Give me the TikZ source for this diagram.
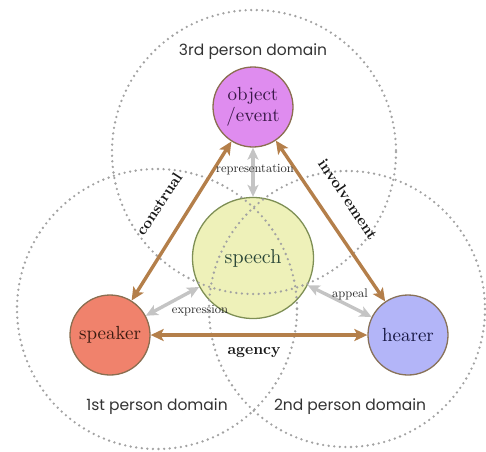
\documentclass[tikz,border=0pt]{standalone}
\usepackage{fontspec}
\newfontfamily\domfont{Poppins}
\newfontfamily\lmten{lmroman10-regular}[Extension=.otf, BoldFont=lmroman10-bold]
\usetikzlibrary{arrows.meta}
\definecolor{objfill}{HTML}{DF8CEF}
\definecolor{objtext}{HTML}{3A1848}
\definecolor{spfill}{HTML}{EEF1B9}
\definecolor{spdraw}{HTML}{7E8F55}
\definecolor{sptext}{HTML}{2C4838}
\definecolor{skfill}{HTML}{F0826C}
\definecolor{sktext}{HTML}{3A1A10}
\definecolor{hrfill}{HTML}{B3B5F8}
\definecolor{hrtext}{HTML}{151540}
\definecolor{nodeborder}{HTML}{8A6E50}
\definecolor{brownarr}{HTML}{B47F4A}
\definecolor{grayarr}{HTML}{C4C4C4}
\definecolor{dotgray}{HTML}{A2A2A2}
\definecolor{domtext}{HTML}{333333}
\tikzset{
  domaincircle/.style={draw=dotgray, line width=2.6pt, line cap=round, dash pattern=on 0pt off 5.6pt},
  bignode/.style={circle, draw=nodeborder, line width=1.3pt, minimum size=80pt, inner sep=0pt, align=center, font=\lmten\fontsize{19}{21}\selectfont},
  brownarrow/.style={draw=brownarr, line width=3.4pt, {Stealth[length=13pt,width=12pt,inset=3pt]}-{Stealth[length=13pt,width=12pt,inset=3pt]}},
  grayarrow/.style={draw=grayarr, line width=3.4pt, {Stealth[length=12pt,width=11pt,inset=3pt]}-{Stealth[length=12pt,width=11pt,inset=3pt]}},
  domlabel/.style={text=domtext, font=\domfont\fontsize{15.5}{17}\selectfont},
  smalllabel/.style={text=black!85, font=\lmten\fontsize{12.5}{14}\selectfont},
  boldlabel/.style={text=black!90, font=\lmten\bfseries\fontsize{15.5}{17}\selectfont}
}
\begin{document}
\begin{tikzpicture}[x=1pt, y=-1pt]
\useasboundingbox (0,0) rectangle (486,451);
% speech node (under dotted circles)
\node[circle, draw=spdraw, fill=spfill, line width=1.3pt, minimum size=121pt, inner sep=0pt] (speech) at (253,258) {};
% domain circles
\draw[domaincircle] (254,152) circle (142);
\draw[domaincircle] (157,309) circle (140);
\draw[domaincircle] (347,309) circle (138);
\node[text=sptext, font=\lmten\fontsize{20}{22}\selectfont] (speechtext) at (253,258) {speech};
% other nodes
\node[bignode, fill=objfill, text=objtext] (obj) at (253,107) {object\\/event};
\node[bignode, fill=skfill, text=sktext] (speaker) at (110,335) {speaker};
\node[bignode, fill=hrfill, text=hrtext, draw=nodeborder!80!gray] (hearer) at (408,335) {hearer};
% arrows
\draw[brownarrow] (speaker) -- (obj);
\draw[brownarrow] (hearer) -- (obj);
\draw[brownarrow] (speaker) -- (hearer);
\draw[grayarrow] (speech) -- (obj);
\draw[grayarrow] (speaker) -- (speech);
\draw[grayarrow] (hearer) -- (speech);
% labels
\node[smalllabel] (lrep) at (255,170) {representation};
\node[smalllabel] (lexp) at (200,311) {expression};
\node[smalllabel] (lapp) at (350,294) {appeal};
\node[boldlabel] (lag) at (254,353) {agency};
\node[boldlabel, rotate=57] (lcon) at (159,204) {construal};
\node[boldlabel, rotate=-56] (linv) at (348,199) {involvement};
\node[domlabel] (d3) at (253,52) {3rd person domain};
\node[domlabel] (d1) at (157,407) {1st person domain};
\node[domlabel] (d2) at (350,407) {2nd person domain};
\end{tikzpicture}
\end{document}
